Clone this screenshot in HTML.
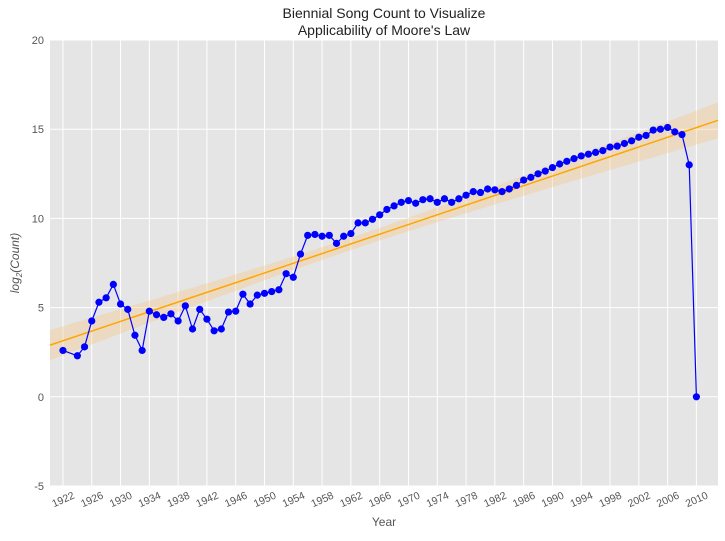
<!DOCTYPE html>
<html><head><meta charset="utf-8"><style>
body{margin:0;background:#fff;}
svg text{font-family:"Liberation Sans","DejaVu Sans",sans-serif;}
</style></head><body>
<svg id="chart" width="725" height="536" xmlns="http://www.w3.org/2000/svg">
<rect x="50" y="40" width="668" height="446" fill="#e5e5e5"/>
<g id="grid"></g>
<g id="band"></g>
<g id="series"></g>
<g id="axes"></g>
<text x="384" y="18" text-anchor="middle" font-size="14" fill="#222">Biennial Song Count to Visualize</text>
<text x="384" y="35" text-anchor="middle" font-size="14" fill="#222">Applicability of Moore's Law</text>
<text x="384" y="526" text-anchor="middle" font-size="12" fill="#555">Year</text>
<text transform="translate(19,263) rotate(-90)" text-anchor="middle" font-size="12" fill="#555" font-family="Liberation Serif,serif" font-style="italic">log<tspan font-size="8" dy="3">2</tspan><tspan dy="-3">(Count)</tspan></text>
</svg>
<script>
const years = [1922];
for (let y = 1924; y <= 2010; y++) years.push(y);
const counts = [2.6,
2.3,2.8,4.25,5.3,5.55,6.3,5.2,4.9,3.45,2.6,
4.8,4.6,4.45,4.65,4.25,5.1,3.8,4.9,4.35,3.7,
3.8,4.75,4.8,5.75,5.2,5.7,5.8,5.9,6.0,6.9,
6.7,8.0,9.05,9.1,9.0,9.05,8.6,9.0,9.15,9.75,
9.75,9.95,10.2,10.5,10.7,10.9,11.0,10.85,11.05,11.1,
10.9,11.1,10.9,11.1,11.3,11.5,11.45,11.65,11.6,
11.5,11.65,11.85,12.15,12.3,12.5,12.65,12.85,13.05,13.2,
13.35,13.5,13.6,13.7,13.8,14.0,14.05,14.2,14.35,14.55,
14.65,14.95,15.0,15.1,14.85,14.7,13.0,0];
const xTicks = [1922,1926,1930,1934,1938,1942,1946,1950,1954,1958,1962,1966,1970,1974,1978,1982,1986,1990,1994,1998,2002,2006,2010];
const yTicks = [-5,0,5,10,15,20];
const fitIntercept = 3.14;
const fitSlope = 0.1358;
const bandCenterYear = 1962;
const bandHalfMin = 0.35;
const bandGrowth = 0.00034;

const X0=1920.2, X1=2013, Y0=-5, Y1=20;
const xs = v => 50 + (v - X0) / (X1 - X0) * 668;
const ys = v => 486 - (v - Y0) / (Y1 - Y0) * 446;
const NS = "http://www.w3.org/2000/svg";
function mk(tag, parent, attrs){const e=document.createElementNS(NS,tag);for(const k in attrs)e.setAttribute(k,attrs[k]);document.getElementById(parent).appendChild(e);return e;}

xTicks.forEach(t=>{
  const l=mk('line','grid',{x1:xs(t),x2:xs(t),y1:40,y2:486,stroke:'#fff','stroke-width':1});
  
  
  const tx=mk('text','axes',{x:xs(t),y:503,'text-anchor':'middle','font-size':10.5,fill:'#555',transform:`rotate(-24 ${xs(t)} 499)`});
  tx.textContent=t;
  
  
});
yTicks.forEach(t=>{
  const l=mk('line','grid',{x1:50,x2:718,y1:ys(t),y2:ys(t),stroke:'#fff','stroke-width':1});
  
  
  const tx=mk('text','axes',{x:44,y:ys(t)+4,'text-anchor':'end','font-size':11,fill:'#555'});
  tx.textContent=t;
  
  
});
const fit = yr => fitIntercept + fitSlope*(yr-1922);
const hw = yr => Math.sqrt(bandHalfMin*bandHalfMin + bandGrowth*(yr-bandCenterYear)**2);
let up=[],lo=[];
const N=60;
for(let i=0;i<=N;i++){const yr=X0+(X1-X0)*i/N;up.push(xs(yr)+','+ys(fit(yr)+hw(yr)));lo.unshift(xs(yr)+','+ys(fit(yr)-hw(yr)));}
const band=mk('polygon','band',{points:up.concat(lo).join(' '),fill:'#f5c77e','fill-opacity':0.35});


const fl=mk('line','band',{x1:xs(X0),y1:ys(fit(X0)),x2:xs(X1),y2:ys(fit(X1)),stroke:'orange','stroke-width':1.5});


const pl=mk('polyline','series',{points:years.map((y,i)=>xs(y)+','+ys(counts[i])).join(' '),fill:'none',stroke:'blue','stroke-width':1.2});


years.forEach((y,i)=>{
  const c=mk('circle','series',{cx:xs(y),cy:ys(counts[i]),r:3.6,fill:'blue'});
  
  
});
</script>
</body></html>
